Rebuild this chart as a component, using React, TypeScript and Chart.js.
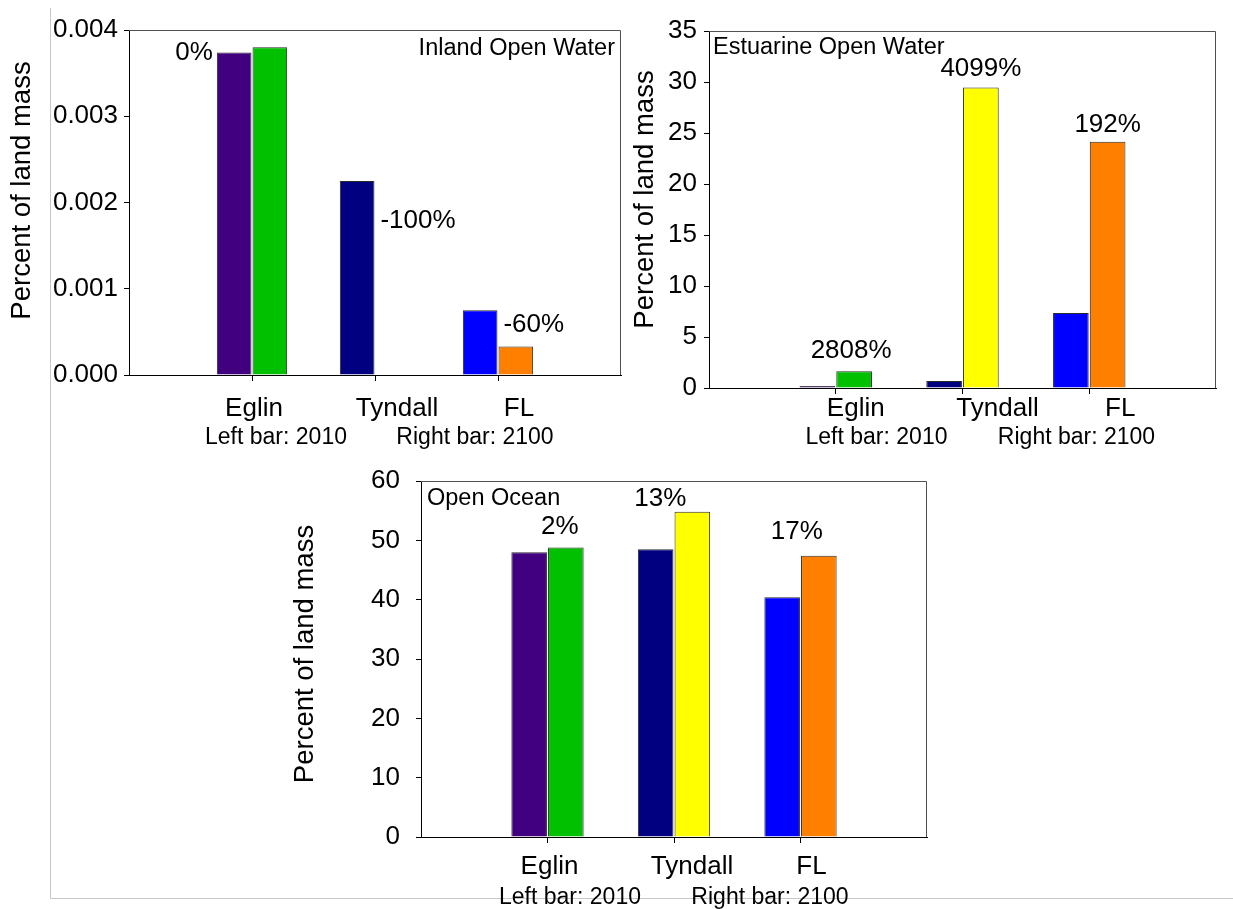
import React, { useEffect, useRef } from "react";
import { Chart, registerables } from "chart.js";

Chart.register(...registerables);

const W = 1233;
const H = 909;
const FONT = '"Liberation Sans", Arial, Helvetica, sans-serif';

// ---------- data ----------
const categories = ["", "Eglin", "Tyndall", "FL", ""];
const subLabels = ["Left bar: 2010", "Right bar: 2100"];

const inland2010 = [null, 0.00374, 0.00225, 0.00075, null];
const inland2100 = [null, 0.0038, 0, 0.00033, null];
const inlandChange = ["0%", "-100%", "-60%"];

const estuarine2010 = [null, 0.056, 0.69, 7.35, null];
const estuarine2100 = [null, 1.63, 29.45, 24.15, null];
const estuarineChange = ["2808%", "4099%", "192%"];

const ocean2010 = [null, 48.0, 48.5, 40.4, null];
const ocean2100 = [null, 48.8, 54.8, 47.4, null];
const oceanChange = ["2%", "13%", "17%"];

const colors2010 = ["rgba(0,0,0,0)", "#400080", "#000080", "#0000ff", "rgba(0,0,0,0)"];
const colors2100 = ["rgba(0,0,0,0)", "#00c000", "#ffff00", "#ff8000", "rgba(0,0,0,0)"];

// ---------- layout (positions / styles only) ----------
type Note = { ds: number; idx: number; anchor: "left" | "right" | "center"; dx: number; dy: number; align: CanvasTextAlign };

type Panel = {
  key: string;
  title: string;
  d2010: (number | null)[];
  d2100: (number | null)[];
  changes: string[];
  yMax: number;
  yStep: number;
  decimals: number;
  area: { left: number; top: number; right: number; bottom: number };
  tickPad: number;
  yTitleX: number;
  yTitleDy: number;
  titleAlign: CanvasTextAlign;
  titleDx: number;
  titleDy: number;
  catDy: number;
  catShift: number[];
  subDy: number;
  subShift: number[];
  minBar: number;
  notes: Note[];
};

const panels: Panel[] = [
  {
    key: "inland",
    title: "Inland Open Water",
    d2010: inland2010,
    d2100: inland2100,
    changes: inlandChange,
    yMax: 0.004,
    yStep: 0.001,
    decimals: 3,
    area: { left: 129, top: 30, right: 621, bottom: 375 },
    tickPad: 6,
    yTitleX: 22,
    yTitleDy: -12,
    titleAlign: "right",
    titleDx: -6,
    titleDy: 19,
    catDy: 34,
    catShift: [0, 2, 22, 21, 0],
    subDy: 63,
    subShift: [-99, 100],
    minBar: 0,
    notes: [
      { ds: 0, idx: 1, anchor: "left", dx: -4, dy: 0, align: "right" },
      { ds: 0, idx: 2, anchor: "right", dx: 6, dy: 40, align: "left" },
      { ds: 0, idx: 3, anchor: "right", dx: 6, dy: 15, align: "left" },
    ],
  },
  {
    key: "estuarine",
    title: "Estuarine Open Water",
    d2010: estuarine2010,
    d2100: estuarine2100,
    changes: estuarineChange,
    yMax: 35,
    yStep: 5,
    decimals: 0,
    area: { left: 709, top: 31, right: 1216, bottom: 388 },
    tickPad: 7,
    yTitleX: 645,
    yTitleDy: -10,
    titleAlign: "left",
    titleDx: 4,
    titleDy: 17,
    catDy: 21,
    catShift: [0, 20, 35, 31, 0],
    subDy: 50,
    subShift: [-86, 114],
    minBar: 2,
    notes: [
      { ds: 1, idx: 1, anchor: "center", dx: -3, dy: -21, align: "center" },
      { ds: 1, idx: 2, anchor: "center", dx: 0, dy: -19, align: "center" },
      { ds: 1, idx: 3, anchor: "center", dx: 0, dy: -17, align: "center" },
    ],
  },
  {
    key: "ocean",
    title: "Open Ocean",
    d2010: ocean2010,
    d2100: ocean2100,
    changes: oceanChange,
    yMax: 60,
    yStep: 10,
    decimals: 0,
    area: { left: 421, top: 481, right: 927, bottom: 837 },
    tickPad: 16,
    yTitleX: 305,
    yTitleDy: -5,
    titleAlign: "left",
    titleDx: 6,
    titleDy: 18,
    catDy: 30,
    catShift: [0, 2, 18, 11, 0],
    subDy: 61,
    subShift: [-104, 96],
    minBar: 0,
    notes: [
      { ds: 1, idx: 1, anchor: "center", dx: -6, dy: -21, align: "center" },
      { ds: 1, idx: 2, anchor: "center", dx: -32, dy: -13, align: "center" },
      { ds: 1, idx: 3, anchor: "center", dx: -22, dy: -24, align: "center" },
    ],
  },
];

function PanelChart({ spec }: { spec: Panel }) {
  const ref = useRef<HTMLCanvasElement>(null);

  useEffect(() => {
    const canvas = ref.current;
    if (!canvas) return;
    const yAxisWidth = 100;
    const xAxisHeight = 6;
    const a = spec.area;

    const textPlugin = {
      id: "panelText_" + spec.key,
      afterDraw(chart: any) {
        const ctx: CanvasRenderingContext2D = chart.ctx;
        const ca = chart.chartArea;
        const xs = chart.scales.x;
        ctx.save();

        // frame: top and right edges of the plot box
        ctx.strokeStyle = "#505050";
        ctx.lineWidth = 1;
        ctx.beginPath();
        const t = Math.round(ca.top) + 0.5;
        const r = Math.round(ca.right) - 0.5;
        ctx.moveTo(Math.round(ca.left), t);
        ctx.lineTo(r, t);
        ctx.lineTo(r, Math.round(ca.bottom));
        ctx.stroke();

        ctx.fillStyle = "#000";
        ctx.textBaseline = "middle";

        // region title inside the plot
        ctx.font = `23.5px ${FONT}`;
        ctx.textAlign = spec.titleAlign;
        const tx = spec.titleAlign === "right" ? ca.right + spec.titleDx : ca.left + spec.titleDx;
        ctx.fillText(spec.title, tx, ca.top + spec.titleDy);

        // category labels
        ctx.font = `26px ${FONT}`;
        ctx.textAlign = "center";
        categories.forEach((c, i) => {
          if (!c) return;
          ctx.fillText(c, xs.getPixelForValue(i) + spec.catShift[i], ca.bottom + spec.catDy);
        });

        // sub labels (centred about the middle category)
        ctx.font = `23px ${FONT}`;
        const mid = xs.getPixelForValue(2);
        subLabels.forEach((s, i) => {
          ctx.fillText(s, mid + spec.subShift[i], ca.bottom + spec.subDy);
        });

        // percent change notes
        ctx.font = `26px ${FONT}`;
        spec.notes.forEach((n, i) => {
          const el = chart.getDatasetMeta(n.ds).data[n.idx];
          if (!el) return;
          const half = el.width / 2;
          let x = el.x;
          if (n.anchor === "left") x = el.x - half;
          if (n.anchor === "right") x = el.x + half;
          ctx.textAlign = n.align;
          ctx.fillText(spec.changes[i], x + n.dx, el.y + n.dy);
        });

        // y axis title
        ctx.font = `27.5px ${FONT}`;
        ctx.textAlign = "center";
        ctx.translate(spec.yTitleX, (ca.top + ca.bottom) / 2 + spec.yTitleDy);
        ctx.rotate(-Math.PI / 2);
        ctx.fillText("Percent of land mass", 0, 0);

        ctx.restore();
      },
    };

    const chart = new Chart(canvas, {
      type: "bar",
      data: {
        labels: categories,
        datasets: [
          {
            label: "2010",
            data: spec.d2010 as any,
            backgroundColor: colors2010,
            borderColor: "#2a2a2a",
            borderWidth: 1,
            minBarLength: spec.minBar,
            categoryPercentage: 0.58,
            barPercentage: 0.97,
          },
          {
            label: "2100",
            data: spec.d2100 as any,
            backgroundColor: colors2100,
            borderColor: "#2a2a2a",
            borderWidth: 1,
            categoryPercentage: 0.58,
            barPercentage: 0.97,
          },
        ],
      },
      options: {
        responsive: false,
        maintainAspectRatio: false,
        animation: false,
        devicePixelRatio: 1,
        events: [],
        layout: {
          padding: {
            left: a.left - yAxisWidth,
            top: a.top,
            right: W - a.right,
            bottom: H - a.bottom - xAxisHeight,
          },
        },
        plugins: {
          legend: { display: false },
          tooltip: { enabled: false },
          title: { display: false },
        },
        scales: {
          x: {
            type: "category",
            offset: false,
            grid: {
              offset: false,
              drawOnChartArea: false,
              drawTicks: true,
              tickLength: 6,
              color: (c: any) => (categories[c.index] ? "#000" : "rgba(0,0,0,0)"),
            },
            border: { display: true, color: "#000", width: 1 },
            ticks: { display: false },
            afterFit: (s: any) => {
              s.height = xAxisHeight;
            },
          },
          y: {
            min: 0,
            max: spec.yMax,
            grid: { drawOnChartArea: false, drawTicks: true, tickLength: 5, color: "#000" },
            border: { display: true, color: "#000", width: 1 },
            ticks: {
              stepSize: spec.yStep,
              color: "#000",
              padding: spec.tickPad,
              font: { family: FONT, size: 26 },
              callback: (v: any) => Number(v).toFixed(spec.decimals),
            },
            afterFit: (s: any) => {
              s.width = yAxisWidth;
            },
          },
        },
      } as any,
      plugins: [textPlugin],
    });

    return () => chart.destroy();
  }, [spec]);

  return (
    <canvas
      ref={ref}
      width={W}
      height={H}
      style={{ position: "absolute", left: 0, top: 0, width: W, height: H }}
    />
  );
}

export default function App() {
  return (
    <div
      style={{
        position: "absolute",
        left: 0,
        top: 0,
        width: W,
        height: H,
        background: "#ffffff",
        overflow: "hidden",
      }}
    >
      <div
        style={{
          position: "absolute",
          left: 50,
          top: 8,
          width: W - 50,
          height: 891,
          borderLeft: "1px solid #c8c8c8",
          borderBottom: "1px solid #c8c8c8",
          boxSizing: "border-box",
        }}
      />
      {panels.map((p) => (
        <PanelChart key={p.key} spec={p} />
      ))}
    </div>
  );
}
